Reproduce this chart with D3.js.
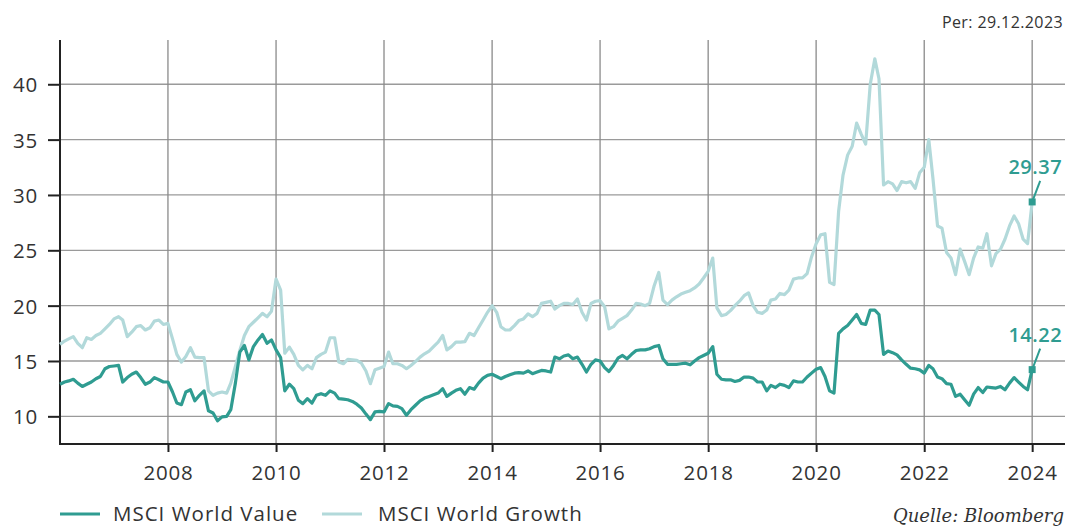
<!DOCTYPE html>
<html>
<head>
<meta charset="utf-8">
<script src="https://cdn.jsdelivr.net/npm/d3@7"></script>
<style>
  body { margin: 0; background: #fff; }
  svg { display: block; font-family: "Open Sans", Lato, sans-serif; }
</style>
</head>
<body>
<div class="chart"></div>
<script>
// monthly values, Jan 2006 .. Dec 2023 (last point = 29.12.2023)
const startMonth = new Date(2006, 0, 1);
const valueSeries = [
  12.9, 13.1, 13.2, 13.35, 13.0, 12.7, 12.9, 13.1, 13.4, 13.6, 14.3, 14.5,
  14.55, 14.6, 13.1, 13.5, 13.8, 14.0, 13.5, 12.9, 13.1, 13.5, 13.3, 13.1,
  13.1, 12.2, 11.2, 11.05, 12.2, 12.4, 11.4, 11.9, 12.3, 10.5, 10.3, 9.6,
  9.95, 10.0, 10.6, 13.0, 15.8, 16.4, 15.1, 16.3, 16.9, 17.4, 16.6, 16.9,
  16.0, 15.3, 12.3, 12.9, 12.5, 11.45, 11.15, 11.6, 11.2, 11.9, 12.05, 11.9,
  12.3, 12.1, 11.6, 11.55, 11.5, 11.35, 11.1, 10.75, 10.2, 9.7, 10.4, 10.45,
  10.4, 11.15, 10.95, 10.9, 10.7, 10.1, 10.6, 11.0, 11.4, 11.65, 11.8, 11.95,
  12.1, 12.5, 11.8, 12.1, 12.35, 12.5, 12.0, 12.6, 12.45, 13.0, 13.45, 13.7,
  13.8, 13.6, 13.4, 13.6, 13.75, 13.9, 13.95, 13.9, 14.1, 13.85, 14.0, 14.15,
  14.1, 14.0, 15.35, 15.2, 15.45, 15.55, 15.2, 15.35, 14.7, 14.0, 14.7, 15.1,
  15.0, 14.4, 14.05, 14.6, 15.25, 15.5, 15.2, 15.6, 15.95, 16.0, 16.0, 16.1,
  16.3, 16.4, 15.2, 14.7, 14.7, 14.7, 14.75, 14.8, 14.65, 15.0, 15.3, 15.5,
  15.7, 16.3, 13.8, 13.35, 13.3, 13.3, 13.15, 13.25, 13.55, 13.55, 13.45, 13.1,
  13.1, 12.3, 12.8, 12.6, 12.9, 12.8, 12.6, 13.2, 13.1, 13.1, 13.55, 13.9,
  14.25, 14.4, 13.6, 12.3, 12.1, 17.5, 17.9, 18.2, 18.7, 19.2, 18.4, 18.3,
  19.6, 19.6, 19.2, 15.6, 15.9, 15.75, 15.55, 15.1, 14.7, 14.35, 14.3, 14.2,
  13.9, 14.6, 14.3, 13.55, 13.4, 12.95, 12.9, 11.8, 12.0, 11.5, 11.0, 12.0,
  12.6, 12.15, 12.65, 12.6, 12.55, 12.7, 12.4, 13.0, 13.5, 13.1, 12.7, 12.4,
  14.22
];
const growthSeries = [
  16.5, 16.8, 17.0, 17.2, 16.6, 16.2, 17.1, 16.95, 17.3, 17.5, 17.9, 18.3,
  18.8, 19.0, 18.7, 17.2, 17.6, 18.1, 18.2, 17.8, 18.0, 18.6, 18.7, 18.3,
  18.4, 17.0, 15.6, 14.9, 15.4, 16.2, 15.35, 15.3, 15.3, 12.3, 11.9, 12.1,
  12.2, 12.1, 13.0, 14.5, 15.95, 17.3, 18.1, 18.5, 18.9, 19.3, 19.0, 19.5,
  22.4, 21.4, 15.7, 16.25, 15.6, 14.6, 14.2, 14.6, 14.3, 15.3, 15.6, 15.8,
  17.1, 17.1, 14.9, 14.75, 15.15, 15.1, 15.05, 14.8, 14.1, 12.95, 14.2, 14.35,
  14.5, 15.8, 14.75, 14.75, 14.6, 14.3, 14.6, 14.95, 15.35, 15.65, 15.9, 16.3,
  16.7, 17.3, 16.0, 16.3, 16.7, 16.7, 16.75, 17.5, 17.3, 18.0, 18.7, 19.4,
  20.0, 19.4, 18.1, 17.8, 17.8, 18.2, 18.65, 18.8, 19.25, 19.0, 19.3, 20.2,
  20.3, 20.4, 19.7, 20.0, 20.2, 20.2, 20.1, 20.6, 19.4, 18.7, 20.2, 20.4,
  20.45, 19.9, 17.9, 18.1, 18.6, 18.85, 19.1, 19.6, 20.2, 20.15, 20.0, 20.2,
  21.8, 23.0, 20.5, 20.1, 20.5, 20.8, 21.05, 21.2, 21.35, 21.6, 21.95, 22.5,
  23.1, 24.3, 19.8, 19.1, 19.2, 19.55, 20.0, 20.4, 20.9, 21.15, 20.0, 19.4,
  19.3, 19.6, 20.5, 20.6, 21.1, 21.0, 21.4, 22.4, 22.5, 22.5, 22.9, 24.4,
  25.6, 26.4, 26.5, 22.1, 21.9, 28.5, 31.8, 33.6, 34.4, 36.5, 35.5, 34.6,
  40.0, 42.3, 40.5, 30.9, 31.2, 31.0, 30.4, 31.2, 31.1, 31.2, 30.6, 32.0,
  32.5, 35.0, 31.5, 27.2, 27.0, 24.8, 24.3, 22.8, 25.1, 24.0, 22.8, 24.3,
  25.3, 25.2, 26.5, 23.6, 24.7, 25.1, 26.0, 27.2, 28.1, 27.4, 26.0, 25.6,
  29.37
];
const yTicks = [10, 15, 20, 25, 30, 35, 40];
const xTickYears = [2008, 2010, 2012, 2014, 2016, 2018, 2020, 2022, 2024];
const seriesNames = ["MSCI World Value", "MSCI World Growth"];
const seriesColors = ["#2f9c91", "#b2d9da"];
const asOfLabel = "Per: 29.12.2023";
const sourceLabel = "Quelle: Bloomberg";

const W = 1068, H = 528;
const m = { left: 60, right: 1065, top: 40, bottom: 444 };

const svg = d3.select(".chart").append("svg")
  .attr("width", W).attr("height", H);

const dates = valueSeries.map((d, i) => d3.timeMonth.offset(startMonth, i));

const x = d3.scaleTime()
  .domain([startMonth, new Date(2024, 7, 10)])
  .range([m.left, m.right]);
const y = d3.scaleLinear().domain([7.5, 44]).range([m.bottom, m.top]);

// grid
svg.append("g").selectAll("line")
  .data(yTicks).enter().append("line")
  .attr("x1", m.left).attr("x2", m.right)
  .attr("y1", d => y(d)).attr("y2", d => y(d))
  .attr("stroke", "#9a9a9a").attr("stroke-width", 1.3);
svg.append("g").selectAll("line")
  .data(xTickYears).enter().append("line")
  .attr("x1", d => x(new Date(d, 0, 1))).attr("x2", d => x(new Date(d, 0, 1)))
  .attr("y1", m.top).attr("y2", m.bottom)
  .attr("stroke", "#8a8a8a").attr("stroke-width", 1.3);

// axes
const yAxis = svg.append("g")
  .attr("transform", "translate(" + m.left + ",0)")
  .call(d3.axisLeft(y).tickValues(yTicks).tickSize(12).tickPadding(10));
const xAxis = svg.append("g")
  .attr("transform", "translate(0," + m.bottom + ")")
  .call(d3.axisBottom(x).tickValues(xTickYears.map(d => new Date(d, 0, 1)))
    .tickFormat(d3.timeFormat("%Y")).tickSize(8).tickPadding(13));
[yAxis, xAxis].forEach(a => {
  a.select(".domain").remove();
  a.selectAll("line").attr("stroke", "#222").attr("stroke-width", 2);
  a.selectAll("text").attr("fill", "#333").style("font-size", "20.5px")
    .style("letter-spacing", "0.8px")
    .style("font-family", "'Open Sans', sans-serif");
});
yAxis.selectAll("text").attr("dy", "0.36em");
svg.append("line").attr("x1", m.left).attr("x2", m.left).attr("y1", m.top).attr("y2", m.bottom + 1)
  .attr("stroke", "#222").attr("stroke-width", 2);
svg.append("line").attr("x1", m.left - 1).attr("x2", m.right).attr("y1", m.bottom).attr("y2", m.bottom)
  .attr("stroke", "#222").attr("stroke-width", 2);

// lines
const line = d3.line().x((d, i) => x(dates[i])).y(d => y(d));
[growthSeries, valueSeries].forEach((s, k) => {
  svg.append("path").datum(s)
    .attr("fill", "none")
    .attr("stroke", k === 0 ? seriesColors[1] : seriesColors[0])
    .attr("stroke-width", 3.2)
    .attr("stroke-linejoin", "round")
    .attr("d", line);
});

// end markers and labels
[valueSeries, growthSeries].forEach(s => {
  const last = s[s.length - 1];
  const px = x(dates[dates.length - 1]), py = y(last);
  svg.append("rect").attr("x", px - 3.5).attr("y", py - 3.5)
    .attr("width", 7).attr("height", 7).attr("fill", seriesColors[0]);
  svg.append("line").attr("x1", px).attr("y1", py)
    .attr("x2", px + 8).attr("y2", py - 21)
    .attr("stroke", seriesColors[0]).attr("stroke-width", 2);
  svg.append("text").attr("x", px + 30).attr("y", py - 28)
    .attr("text-anchor", "end").attr("fill", seriesColors[0])
    .style("font-size", "20px").style("font-weight", "600")
    .style("letter-spacing", "0.5px")
    .text(d3.format(".2f")(last));
});

// top note
svg.append("text").attr("x", 1063).attr("y", 28).attr("text-anchor", "end")
  .attr("fill", "#333").style("font-size", "16px").style("letter-spacing", "0.4px")
  .text(asOfLabel);

// legend
const legend = svg.append("g").attr("transform", "translate(60,514)");
[[0, 0, 53], [1, 262, 56]].forEach(([k, ox, tx]) => {
  legend.append("line").attr("x1", ox).attr("x2", ox + 40).attr("y1", 0).attr("y2", 0)
    .attr("stroke", seriesColors[k]).attr("stroke-width", 3);
  legend.append("text").attr("x", ox + tx).attr("y", 7)
    .attr("fill", "#333").style("font-size", "20.5px").style("letter-spacing", "1px")
    .text(seriesNames[k]);
});

svg.append("text").attr("x", 1064).attr("y", 522).attr("text-anchor", "end")
  .attr("fill", "#333").style("font-size", "18px").style("font-style", "italic")
  .style("font-family", "'DejaVu Serif', serif")
  .text(sourceLabel);
</script>
</body>
</html>
